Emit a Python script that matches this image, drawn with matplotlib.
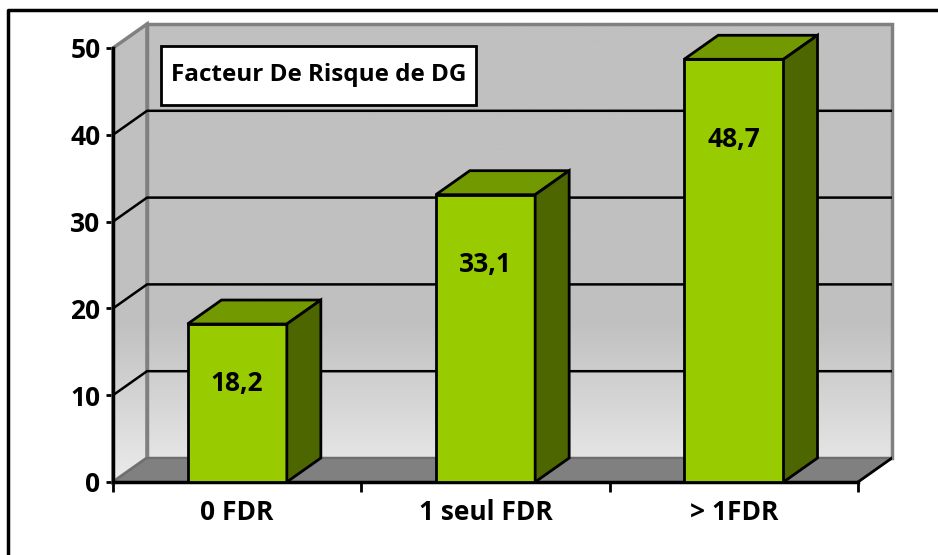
import numpy as np
import matplotlib
matplotlib.use('Agg')
import matplotlib.pyplot as plt
from matplotlib.patches import Polygon, Rectangle
from matplotlib.lines import Line2D

categories = ['0 FDR', '1 seul FDR', '> 1FDR']
values = [18.2, 33.1, 48.7]
value_labels = ['18,2', '33,1', '48,7']
title = 'Facteur De Risque de DG'
yticks = [0, 10, 20, 30, 40, 50]

plt.rcParams['font.family'] = ['Open Sans', 'DejaVu Sans']
plt.rcParams['font.weight'] = 'bold'

W, H = 938, 555
fig = plt.figure(figsize=(W / 100, H / 100), dpi=100)

# axes frame: front y-axis at px 113, baseline at px 482, wall top-right at (892, 24)
ax = fig.add_axes([113 / W, (H - 482) / H, (892 - 113) / W, (482 - 24) / H])
dx = 34 / (745 / 3)     # depth offset in category units
dy = 24 / (434 / 50)    # depth offset in value units
ymax = yticks[-1]
x0, x1 = -0.5, len(categories) - 0.5
ax.set_xlim(x0, x1 + dx)
ax.set_ylim(0, ymax + dy)
ax.set_facecolor('none')

# gradient for walls
grad = np.linspace(0, 1, 256)[:, None]
cmap = matplotlib.colors.LinearSegmentedColormap.from_list(
    'wall', [(0, '#ebebeb'), (0.35, '#c0c0c0'), (1, '#c0c0c0')])

back = Polygon([(x0 + dx, dy), (x1 + dx, dy), (x1 + dx, ymax + dy), (x0 + dx, ymax + dy)],
               closed=True, facecolor='none', edgecolor='#808080', lw=2.5, zorder=2)
side = Polygon([(x0, 0), (x0 + dx, dy), (x0 + dx, ymax + dy), (x0, ymax)],
               closed=True, facecolor='none', edgecolor='#808080', lw=2.5, zorder=2)
for p in (back, side):
    ax.add_patch(p)
    p.set_clip_on(False)
    im = ax.imshow(grad, cmap=cmap, origin='lower', aspect='auto', zorder=1,
                   extent=[x0, x1 + dx, 0, ymax + dy])
    im.set_clip_path(p)

floor = Polygon([(x0, 0), (x1, 0), (x1 + dx, dy), (x0 + dx, dy)], closed=True,
                facecolor='#808080', edgecolor='#6e6e6e', lw=1.5, zorder=3)
ax.add_patch(floor)
ax.add_line(Line2D([x1, x1 + dx], [0, dy], color='black', lw=2, zorder=4))

# gridlines on back and side walls
for v in yticks[1:-1]:
    ax.add_line(Line2D([x0, x0 + dx, x1 + dx], [v, v + dy, v + dy], color='black', lw=1.8, zorder=4))

# 3D bars
bw = 0.2
for i, v in enumerate(values):
    l, r = i - bw, i + bw
    ax.add_patch(Polygon([(l, 0), (r, 0), (r, v), (l, v)], closed=True,
                         facecolor='#99cc00', edgecolor='black', lw=2, zorder=6))
    ax.add_patch(Polygon([(l, v), (r, v), (r + dx, v + dy), (l + dx, v + dy)], closed=True,
                         facecolor='#729a00', edgecolor='black', lw=2, zorder=6))
    ax.add_patch(Polygon([(r, 0), (r + dx, dy), (r + dx, v + dy), (r, v)], closed=True,
                         facecolor='#4d6600', edgecolor='black', lw=2, zorder=6))
    ax.text(i, 0.92 * v - 5.4, value_labels[i], ha='center', va='center',
            fontsize=19, fontweight='bold', zorder=7)

# axes styling
for s in ('top', 'right'):
    ax.spines[s].set_visible(False)
ax.spines['left'].set_bounds(0, ymax)
ax.spines['bottom'].set_bounds(x0, x1)
for s in ('left', 'bottom'):
    ax.spines[s].set_linewidth(2.5)
    ax.spines[s].set_zorder(5)
ax.set_yticks(yticks)
ax.set_yticklabels([str(t) for t in yticks], fontsize=19, fontweight='bold')
ax.tick_params(axis='y', direction='out', length=5, width=2, pad=4)
ax.set_xticks(np.arange(len(categories) + 1) - 0.5)
ax.set_xticklabels([])
ax.tick_params(axis='x', which='major', direction='out', length=7, width=2)
ax.set_xticks(np.arange(len(categories)), minor=True)
ax.set_xticklabels(categories, minor=True, fontsize=19, fontweight='bold')
ax.tick_params(axis='x', which='minor', length=0, pad=12)

# title box
ax.add_patch(Rectangle((0.0616, 0.823), 0.4044, 0.129, transform=ax.transAxes,
                       facecolor='white', edgecolor='black', lw=2, zorder=8))
ax.text(0.2638, 0.888, title, transform=ax.transAxes, fontsize=17.5, fontweight='bold',
        ha='center', va='center', zorder=9)

# outer border (top and left only)
fig.add_artist(Line2D([8 / W, 8 / W, 1], [0, 1 - 10 / H, 1 - 10 / H],
                      transform=fig.transFigure, color='black', lw=2.5))

fig.savefig('out.png', dpi=100)
